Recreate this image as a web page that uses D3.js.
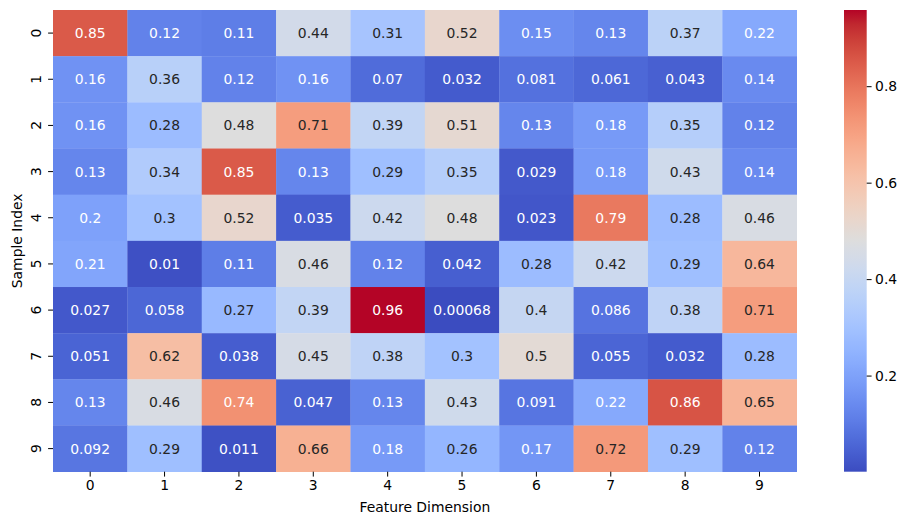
<!DOCTYPE html>
<html><head><meta charset="utf-8">
<script src="https://cdn.jsdelivr.net/npm/d3@7"></script>
<style>body{margin:0;background:#fff}svg{display:block}text{font-family:"DejaVu Sans",sans-serif}</style>
</head><body>
<svg id="c" width="908" height="525"></svg>
<script>
const rowLabels = ["0","1","2","3","4","5","6","7","8","9"];
const colLabels = ["0","1","2","3","4","5","6","7","8","9"];
const values = [
 [0.85, 0.12, 0.11, 0.44, 0.31, 0.52, 0.15, 0.13, 0.37, 0.22],
 [0.16, 0.36, 0.12, 0.16, 0.07, 0.032, 0.081, 0.061, 0.043, 0.14],
 [0.16, 0.28, 0.48, 0.71, 0.39, 0.51, 0.13, 0.18, 0.35, 0.12],
 [0.13, 0.34, 0.85, 0.13, 0.29, 0.35, 0.029, 0.18, 0.43, 0.14],
 [0.2, 0.3, 0.52, 0.035, 0.42, 0.48, 0.023, 0.79, 0.28, 0.46],
 [0.21, 0.01, 0.11, 0.46, 0.12, 0.042, 0.28, 0.42, 0.29, 0.64],
 [0.027, 0.058, 0.27, 0.39, 0.958, 0.00068, 0.4, 0.086, 0.38, 0.71],
 [0.051, 0.62, 0.038, 0.45, 0.38, 0.3, 0.5, 0.055, 0.032, 0.28],
 [0.13, 0.46, 0.74, 0.047, 0.13, 0.43, 0.091, 0.22, 0.86, 0.65],
 [0.092, 0.29, 0.011, 0.66, 0.18, 0.26, 0.17, 0.72, 0.29, 0.12]
];
const cbTicks = [0.2, 0.4, 0.6, 0.8];
const xTitle = "Feature Dimension", yTitle = "Sample Index";

// coolwarm (Moreland) control points
const cw = [[59,76,192],[68,90,204],[77,104,215],[87,117,225],[98,130,234],[108,142,241],[119,154,247],[130,165,251],[141,176,254],[152,185,255],[163,194,255],[174,201,253],[184,208,249],[194,213,244],[204,217,238],[213,219,230],[221,221,221],[229,216,209],[236,211,197],[241,204,185],[245,196,173],[247,187,160],[247,177,148],[247,166,135],[244,154,123],[241,141,111],[236,127,99],[229,112,88],[222,96,77],[213,80,66],[203,62,56],[192,40,47],[180,4,38]].map(c=>d3.rgb(c[0],c[1],c[2]));
const coolwarm = d3.piecewise(d3.interpolateRgb, cw);

const flat = values.flat();
const [vmin, vmax] = d3.extent(flat);
const norm = d3.scaleLinear().domain([vmin, vmax]).range([0,1]).clamp(true);
const color = v => coolwarm(norm(v));

const FS = "13.9px";
const L=53, T=10, R=796.7, B=471.7;
const svg = d3.select("#c");
const x = d3.scaleBand().domain(colLabels).range([L,R]);
const y = d3.scaleBand().domain(rowLabels).range([T,B]);

const cells = [];
values.forEach((row,i)=>row.forEach((v,j)=>cells.push({r:rowLabels[i],c:colLabels[j],v})));

svg.append("g").selectAll("rect").data(cells).join("rect")
 .attr("x",d=>x(d.c)).attr("y",d=>y(d.r))
 .attr("width",x.bandwidth()+0.3).attr("height",y.bandwidth()+0.3)
 .attr("fill",d=>color(d.v));

function lum(c){const f=v=>{v/=255;return v<=0.03928?v/12.92:Math.pow((v+0.055)/1.055,2.4)};const r=d3.rgb(c);return 0.2126*f(r.r)+0.7152*f(r.g)+0.0722*f(r.b);}
const fmt = d3.format(".2~g");
svg.append("g").selectAll("text").data(cells).join("text")
 .attr("x",d=>x(d.c)+x.bandwidth()/2).attr("y",d=>y(d.r)+y.bandwidth()/2)
 .attr("text-anchor","middle").attr("dominant-baseline","central")
 .attr("font-size",FS)
 .attr("fill",d=>lum(color(d.v))>0.408?"#262626":"#ffffff")
 .text(d=>fmt(d.v));

// x axis
const xa = svg.append("g").attr("transform",`translate(0,${B})`)
 .call(d3.axisBottom(x).tickSize(4.9).tickPadding(3.5));
xa.select(".domain").remove();
xa.selectAll("text").attr("font-size",FS).attr("fill","#000").style("font-family","DejaVu Sans");
xa.selectAll("line").attr("stroke","#000").attr("stroke-width",1);

// y axis
const ya = svg.append("g").attr("transform",`translate(${L},0)`)
 .call(d3.axisLeft(y).tickSize(4.9).tickPadding(3.5));
ya.select(".domain").remove();
ya.selectAll("line").attr("stroke","#000").attr("stroke-width",1);
ya.selectAll("text").attr("font-size",FS).attr("fill","#000").style("font-family","DejaVu Sans")
 .attr("x",null).attr("dy",null)
 .attr("text-anchor","middle").attr("dominant-baseline","central")
 .attr("transform","translate(-17.5,0) rotate(-90)");

svg.append("text").attr("x",(L+R)/2).attr("y",511.5).attr("text-anchor","middle")
 .attr("font-size",FS).attr("fill","#000").text(xTitle);
svg.append("text").attr("transform",`translate(21.5,${(T+B)/2}) rotate(-90)`).attr("text-anchor","middle")
 .attr("font-size",FS).attr("fill","#000").text(yTitle);

// colorbar
const cbL=844, cbR=866.7;
const defs = svg.append("defs");
const grad = defs.append("linearGradient").attr("id","g").attr("x1",0).attr("y1",1).attr("x2",0).attr("y2",0);
d3.range(0,1.0001,1/64).forEach(t=>grad.append("stop").attr("offset",t).attr("stop-color",coolwarm(t)));
svg.append("rect").attr("x",cbL).attr("y",T).attr("width",cbR-cbL).attr("height",B-T).attr("fill","url(#g)");
const cy = d3.scaleLinear().domain([vmin,vmax]).range([B,T]);
const ca = svg.append("g").attr("transform",`translate(${cbR},0)`)
 .call(d3.axisRight(cy).tickValues(cbTicks).tickFormat(d3.format(".1f")).tickSize(4.9).tickPadding(3.5));
ca.select(".domain").remove();
ca.selectAll("line").attr("stroke","#000");
ca.selectAll("text").attr("font-size",FS).attr("fill","#000").style("font-family","DejaVu Sans");
</script>
</body></html>
